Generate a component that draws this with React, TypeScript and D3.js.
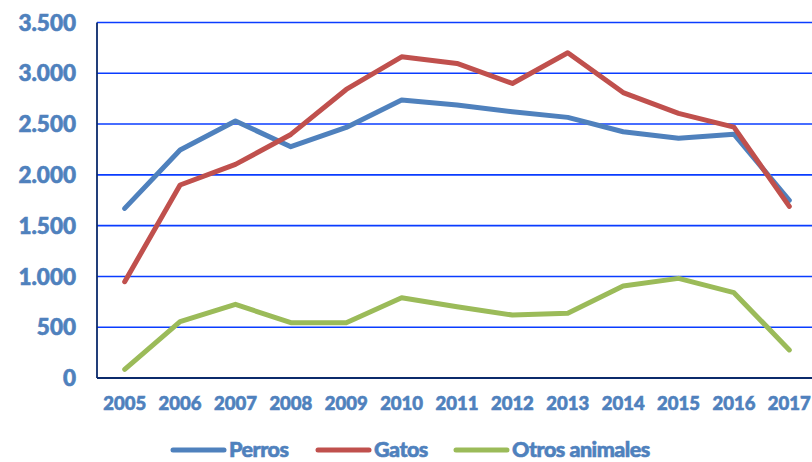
import React, { useEffect, useRef } from "react";
import * as d3 from "d3";

const years = ["2005","2006","2007","2008","2009","2010","2011","2012","2013","2014","2015","2016","2017"];
const perros = [1670, 2244, 2530, 2277, 2467, 2736, 2687, 2621, 2566, 2424, 2360, 2400, 1750];
const gatos = [948, 1900, 2103, 2398, 2841, 3162, 3097, 2900, 3202, 2810, 2605, 2470, 1690];
const otros = [85, 554, 725, 544, 544, 790, 702, 620, 637, 905, 981, 840, 276];
const yTicks = [0, 500, 1000, 1500, 2000, 2500, 3000, 3500];
const seriesNames = ["Perros", "Gatos", "Otros animales"];
const seriesColors = ["#4F81BD", "#C0504D", "#9BBB59"];

const W = 812, H = 462;
const left = 97, right = 817, top = 22.5, bottom = 378;
const font = "Lato, 'Open Sans', sans-serif";
const textColor = "#4F81BD";

export default function App() {
  const ref = useRef<SVGSVGElement>(null);
  useEffect(() => {
    const svg = d3.select(ref.current);
    svg.selectAll("*").remove();
    const x = d3.scaleBand().domain(years).range([left, right]);
    const y = d3.scaleLinear().domain([0, 3500]).range([bottom, top]);
    const cx = (d: string) => (x(d) as number) + x.bandwidth() / 2;

    // gridlines
    svg.append("g").selectAll("line").data(yTicks.filter(t => t > 0)).join("line")
      .attr("x1", left).attr("x2", W).attr("y1", d => y(d)).attr("y2", d => y(d))
      .attr("stroke", "#0A3CFF").attr("stroke-width", 1.6);

    // axes lines
    svg.append("line").attr("x1", left).attr("x2", left).attr("y1", top).attr("y2", bottom)
      .attr("stroke", "#0B2A6B").attr("stroke-width", 1.8);
    svg.append("line").attr("x1", left).attr("x2", W).attr("y1", bottom).attr("y2", bottom)
      .attr("stroke", "#0B2A6B").attr("stroke-width", 1.8);

    const bold = (sel: any) => sel.attr("font-family", font).attr("font-weight", 900)
      .attr("fill", textColor).attr("stroke", textColor).attr("stroke-width", 0.6)
      .attr("paint-order", "stroke");

    // y labels
    const fmt = (v: number) => d3.format(",")(v).replace(/,/g, ".");
    svg.append("g").selectAll("text").data(yTicks).join("text")
      .attr("x", 76).attr("y", d => y(d)).attr("dy", "0.36em")
      .attr("text-anchor", "end").attr("font-size", 22.5).call(bold).text(d => fmt(d));

    // x labels
    svg.append("g").selectAll("text").data(years).join("text")
      .attr("x", d => cx(d)).attr("y", 410)
      .attr("text-anchor", "middle").attr("font-size", 18.5).call(bold).text(d => d);

    // lines
    const all = [perros, gatos, otros];
    const line = d3.line<number>().x((_, i) => cx(years[i])).y(d => y(d));
    all.forEach((s, i) => {
      svg.append("path").attr("d", line(s) as string).attr("fill", "none")
        .attr("stroke", seriesColors[i]).attr("stroke-width", 5)
        .attr("stroke-linejoin", "round").attr("stroke-linecap", "round");
    });

    // legend
    const legX = [173, 318, 456];
    const ly = 450;
    seriesNames.forEach((n, i) => {
      svg.append("line").attr("x1", legX[i]).attr("x2", legX[i] + 51).attr("y1", ly).attr("y2", ly)
        .attr("stroke", seriesColors[i]).attr("stroke-width", 5).attr("stroke-linecap", "round");
      svg.append("text").attr("x", legX[i] + 56).attr("y", ly + 7)
        .attr("font-size", 21.5).attr("letter-spacing", -0.5).call(bold).text(n);
    });
  }, []);
  return (
    <svg ref={ref} width={W} height={H} style={{ position: "absolute", left: 0, top: 0, background: "#fff" }} />
  );
}
